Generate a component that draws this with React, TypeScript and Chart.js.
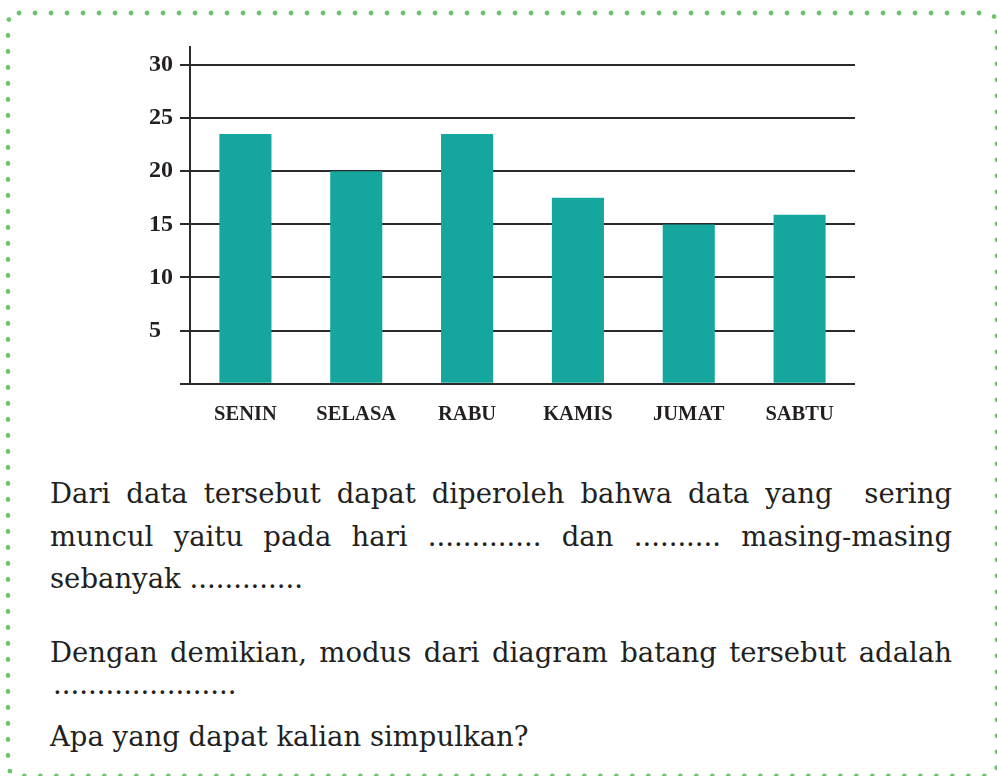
import React, { useEffect, useRef } from "react";
import { Chart, registerables } from "chart.js";

Chart.register(...registerables);

// Jumlah per hari
const days = ["SENIN", "SELASA", "RABU", "KAMIS", "JUMAT", "SABTU"];
const counts = [23.5, 20, 23.5, 17.5, 15, 15.9];
const yTickValues = [0, 5, 10, 15, 20, 25, 30];

const INK = "#231f20";
const LINE = "#2a2a2a";
const BAR = "#15a79d";
const DOTS = "#69c669";

const CANVAS_W = 997;
const CANVAS_H = 440;
const AREA_LEFT = 190;
const AREA_RIGHT = 855;
const AREA_TOP = 47;
const AREA_BOTTOM = 383.7;

// single-digit labels keep to the left column of the two-digit ones
const tickText = (v: number) => (v === 0 ? "" : v < 10 ? `${v}\u2007` : String(v));

function BarChart() {
  const ref = useRef<HTMLCanvasElement | null>(null);

  useEffect(() => {
    if (!ref.current) return;
    const chart = new Chart(ref.current, {
      type: "bar",
      data: {
        labels: days,
        datasets: [
          {
            data: counts,
            backgroundColor: BAR,
            borderWidth: 0,
            barPercentage: 0.47,
            categoryPercentage: 1,
          },
        ],
      },
      options: {
        responsive: false,
        animation: false,
        devicePixelRatio: 1,
        layout: {
          padding: { top: AREA_TOP, right: CANVAS_W - AREA_RIGHT, left: 0, bottom: 0 },
        },
        plugins: {
          legend: { display: false },
          tooltip: { enabled: false },
        },
        scales: {
          x: {
            grid: { display: false, drawTicks: false },
            border: { display: false },
            ticks: {
              color: INK,
              padding: 19,
              font: { family: "'Liberation Serif', serif", size: 20.5, weight: "bold" },
            },
            afterFit: (s: any) => {
              s.height = CANVAS_H - AREA_BOTTOM;
            },
          },
          y: {
            min: 0,
            max: 31.7,
            afterBuildTicks: (s: any) => {
              s.ticks = yTickValues.map((v) => ({ value: v }));
            },
            ticks: {
              color: INK,
              padding: 7,
              font: { family: "'Liberation Serif', serif", size: 24, weight: "bold" },
              callback: (v: any) => tickText(Number(v)),
            },
            grid: {
              color: LINE,
              lineWidth: 2,
              tickLength: 10,
              drawTicks: true,
            },
            border: { display: true, color: LINE, width: 2 },
            afterFit: (s: any) => {
              s.width = AREA_LEFT;
            },
          },
        },
      },
    });
    return () => chart.destroy();
  }, []);

  return (
    <canvas
      ref={ref}
      width={CANVAS_W}
      height={CANVAS_H}
      style={{ position: "absolute", left: 0, top: 0, width: CANVAS_W, height: CANVAS_H }}
    />
  );
}

const textBase: React.CSSProperties = {
  position: "absolute",
  left: 50,
  width: 902,
  fontFamily: "'DejaVu Serif', serif",
  fontSize: 27.5,
  lineHeight: "42.5px",
  color: INK,
  whiteSpace: "nowrap",
};

const justified: React.CSSProperties = {
  ...textBase,
  textAlign: "justify",
  textAlignLast: "justify",
};

export default function App() {
  return (
    <div
      style={{
        position: "absolute",
        left: 0,
        top: 0,
        width: 997,
        height: 776,
        overflow: "hidden",
        background: "#ffffff",
      }}
    >
      <svg
        width={997}
        height={776}
        style={{ position: "absolute", left: 0, top: 0 }}
      >
        <rect
          x={8}
          y={13}
          width={989}
          height={763}
          rx={11}
          ry={11}
          fill="none"
          stroke={DOTS}
          strokeWidth={4.8}
          strokeLinecap="round"
          strokeDasharray="0 16"
        />
      </svg>
      <BarChart />
      <div style={{ ...justified, top: 472 }}>
        Dari data tersebut dapat diperoleh bahwa data yang{"\u00A0"} sering
      </div>
      <div style={{ ...justified, top: 514.5 }}>
        muncul yaitu pada hari ............. dan .......... masing-masing
      </div>
      <div style={{ ...textBase, top: 557 }}>sebanyak .............</div>
      <div style={{ ...justified, top: 631 }}>
        Dengan demikian, modus dari diagram batang tersebut adalah
      </div>
      <div style={{ ...textBase, top: 663, left: 53 }}>.....................</div>
      <div style={{ ...textBase, top: 714.5 }}>Apa yang dapat kalian simpulkan?</div>
    </div>
  );
}
